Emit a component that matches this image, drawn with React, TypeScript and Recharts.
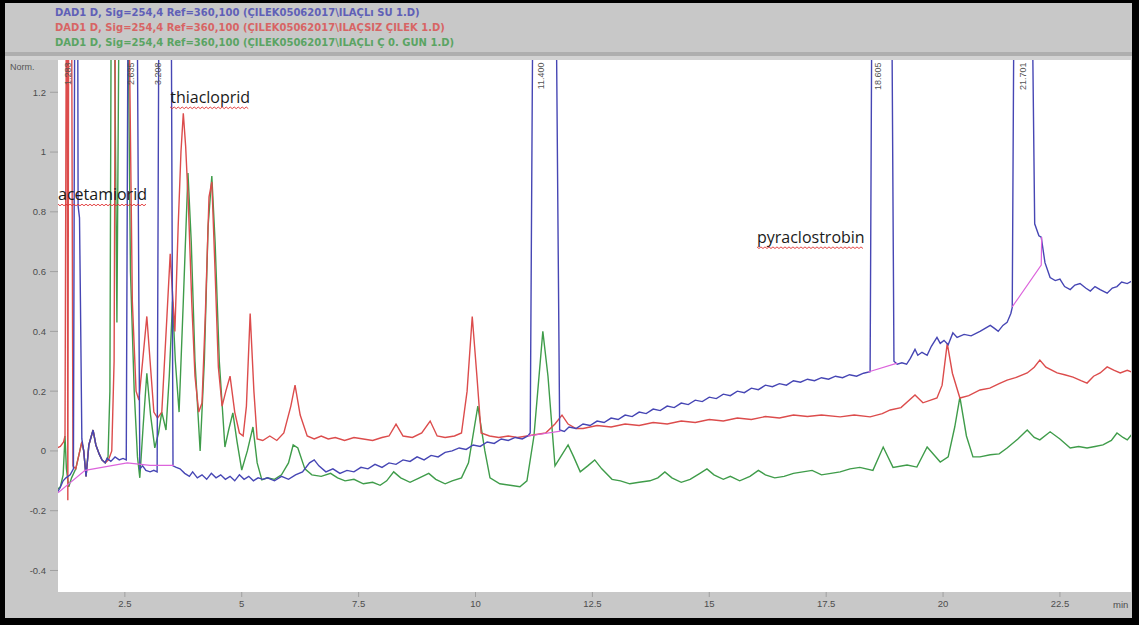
import React from 'react';
import { LineChart, Line, XAxis, YAxis, CartesianGrid, ReferenceDot } from 'recharts';

// ---------- data (retention time in min, absorbance in Norm.) ----------
const blueTrace: [number, number][] = [
  [1.05,-0.14],[1.11,-0.125],[1.18,-0.1],[1.24,-0.09],[1.33,-0.08],[1.4,-0.06],[1.43,1.6],[1.49,1.6],[1.5,0.82],[1.53,0.78],
  [1.55,0.5],[1.58,0.04],[1.62,0.0],[1.67,-0.085],[1.73,0.02],[1.82,0.07],[1.88,0.02],[1.95,-0.01],[2.01,-0.03],[2.08,-0.04],
  [2.12,-0.025],[2.2,-0.035],[2.29,-0.02],[2.38,-0.03],[2.46,-0.025],[2.53,-0.03],[2.57,1.6],[2.76,1.6],[2.82,-0.06],[2.88,-0.05],
  [2.95,-0.065],[3.04,-0.07],[3.12,-0.065],[3.19,-0.07],[3.23,1.6],[3.49,1.6],[3.53,-0.05],[3.6,-0.055],[3.68,-0.06],[3.78,-0.075],
  [3.88,-0.085],[3.95,-0.07],[4.05,-0.09],[4.15,-0.08],[4.25,-0.095],[4.35,-0.075],[4.45,-0.09],[4.55,-0.08],[4.65,-0.095],[4.75,-0.085],
  [4.85,-0.1],[4.95,-0.08],[5.05,-0.095],[5.15,-0.085],[5.25,-0.1],[5.35,-0.09],[5.45,-0.095],[5.55,-0.09],[5.7,-0.1],[5.85,-0.085],
  [6.0,-0.095],[6.15,-0.08],[6.3,-0.07],[6.45,-0.04],[6.55,-0.03],[6.65,-0.05],[6.8,-0.07],[6.95,-0.06],[7.1,-0.075],[7.25,-0.065],
  [7.4,-0.07],[7.55,-0.055],[7.7,-0.06],[7.85,-0.045],[8.0,-0.055],[8.15,-0.04],[8.3,-0.045],[8.45,-0.03],[8.6,-0.035],[8.75,-0.02],
  [8.9,-0.03],[9.05,-0.015],[9.2,-0.02],[9.35,-0.005],[9.5,0.0],[9.65,0.01],[9.8,0.005],[9.95,0.02],[10.1,0.015],[10.25,0.03],
  [10.4,0.025],[10.55,0.04],[10.7,0.035],[10.85,0.045],[11.0,0.04],[11.12,0.05],[11.17,0.06],[11.23,1.6],[11.72,1.6],[11.8,0.07],
  [11.9,0.065],[12.0,0.08],[12.15,0.075],[12.3,0.09],[12.45,0.085],[12.6,0.1],[12.75,0.095],[12.9,0.11],[13.05,0.105],[13.2,0.12],
  [13.35,0.115],[13.5,0.13],[13.65,0.125],[13.8,0.14],[13.95,0.135],[14.1,0.15],[14.25,0.145],[14.4,0.16],[14.55,0.155],[14.7,0.17],
  [14.85,0.165],[15.0,0.18],[15.15,0.175],[15.3,0.19],[15.45,0.185],[15.6,0.2],[15.75,0.195],[15.9,0.21],[16.05,0.205],[16.2,0.22],
  [16.35,0.215],[16.5,0.225],[16.65,0.22],[16.8,0.235],[16.95,0.23],[17.1,0.24],[17.25,0.235],[17.4,0.245],[17.55,0.24],[17.7,0.25],
  [17.85,0.245],[18.0,0.255],[18.15,0.25],[18.3,0.26],[18.44,0.265],[18.48,1.6],[18.9,1.6],[18.95,0.3],[19.02,0.29],[19.12,0.295],
  [19.22,0.29],[19.3,0.31],[19.4,0.34],[19.46,0.32],[19.55,0.33],[19.66,0.32],[19.75,0.35],[19.87,0.38],[19.94,0.36],[20.02,0.37],
  [20.11,0.355],[20.21,0.395],[20.3,0.38],[20.45,0.39],[20.6,0.385],[20.79,0.4],[20.9,0.41],[21.01,0.42],[21.1,0.41],[21.18,0.4],
  [21.28,0.42],[21.37,0.43],[21.45,0.46],[21.48,0.48],[21.52,1.6],[21.9,1.6],[21.96,0.76],[22.05,0.72],[22.1,0.715],[22.18,0.63],
  [22.29,0.58],[22.4,0.57],[22.5,0.575],[22.6,0.55],[22.72,0.54],[22.82,0.555],[22.93,0.56],[23.05,0.545],[23.15,0.535],[23.25,0.55],
  [23.36,0.54],[23.51,0.528],[23.62,0.545],[23.72,0.55],[23.82,0.565],[23.94,0.56],[24.06,0.57],
];

const redTrace: [number, number][] = [
  [1.05,0.01],[1.12,0.015],[1.19,0.03],[1.22,0.05],[1.25,1.6],[1.265,1.6],[1.28,-0.165],[1.3,1.6],[1.36,1.6],[1.39,-0.05],
  [1.45,-0.06],[1.58,0.03],[1.62,0.0],[1.67,-0.085],[1.73,0.02],[1.82,0.07],[1.88,0.02],[1.95,-0.01],[2.01,-0.03],[2.08,-0.04],
  [2.15,-0.03],[2.22,0.0],[2.27,0.3],[2.3,1.6],[2.58,1.6],[2.66,0.5],[2.74,0.2],[2.8,0.17],[2.88,0.3],[2.97,0.45],
  [3.04,0.3],[3.12,0.13],[3.2,0.11],[3.29,0.13],[3.4,0.45],[3.47,0.66],[3.51,0.55],[3.57,0.4],[3.64,0.75],[3.7,1.0],
  [3.75,1.13],[3.8,1.02],[3.86,0.82],[3.93,0.5],[4.0,0.25],[4.08,0.13],[4.15,0.16],[4.22,0.45],[4.3,0.85],[4.36,0.9],
  [4.43,0.6],[4.5,0.28],[4.58,0.15],[4.66,0.2],[4.75,0.25],[4.85,0.13],[4.95,0.06],[5.03,0.05],[5.1,0.15],[5.18,0.46],
  [5.26,0.2],[5.33,0.04],[5.45,0.035],[5.6,0.05],[5.75,0.035],[5.9,0.06],[6.05,0.15],[6.14,0.22],[6.25,0.12],[6.4,0.05],
  [6.55,0.04],[6.7,0.05],[6.85,0.04],[7.0,0.045],[7.2,0.035],[7.4,0.045],[7.6,0.04],[7.8,0.035],[8.0,0.045],[8.15,0.05],
  [8.3,0.09],[8.45,0.05],[8.65,0.045],[8.85,0.06],[9.03,0.1],[9.18,0.05],[9.35,0.045],[9.55,0.05],[9.7,0.06],[9.82,0.2],
  [9.93,0.45],[10.03,0.25],[10.12,0.06],[10.3,0.05],[10.5,0.045],[10.7,0.05],[10.9,0.045],[11.1,0.05],[11.3,0.055],[11.5,0.06],
  [11.7,0.09],[11.85,0.12],[11.98,0.09],[12.15,0.075],[12.3,0.075],[12.6,0.085],[12.9,0.08],[13.2,0.09],[13.5,0.085],[13.8,0.095],
  [14.1,0.09],[14.4,0.1],[14.7,0.095],[15.0,0.105],[15.3,0.1],[15.6,0.11],[15.9,0.105],[16.2,0.115],[16.5,0.11],[16.8,0.12],
  [17.1,0.115],[17.4,0.12],[17.8,0.114],[18.1,0.12],[18.44,0.114],[18.7,0.125],[18.87,0.137],[19.1,0.145],[19.4,0.187],[19.57,0.161],
  [19.87,0.177],[19.98,0.22],[20.09,0.36],[20.2,0.26],[20.36,0.177],[20.55,0.185],[20.79,0.204],[21.0,0.21],[21.2,0.225],[21.37,0.237],
  [21.55,0.245],[21.8,0.261],[21.95,0.28],[22.07,0.304],[22.2,0.28],[22.44,0.261],[22.6,0.255],[22.78,0.247],[22.95,0.235],[23.08,0.227],
  [23.22,0.25],[23.36,0.261],[23.51,0.281],[23.65,0.27],[23.79,0.261],[23.94,0.27],[24.06,0.262],
];

const greenTrace: [number, number][] = [
  [1.05,-0.13],[1.12,-0.12],[1.18,-0.08],[1.22,0.05],[1.25,-0.06],[1.3,-0.12],[1.36,-0.09],[1.45,-0.06],[1.58,0.03],[1.62,0.0],
  [1.67,-0.085],[1.73,0.02],[1.82,0.07],[1.88,0.02],[1.95,-0.01],[2.01,-0.03],[2.08,-0.04],[2.14,-0.02],[2.18,0.2],[2.21,1.6],
  [2.27,1.6],[2.33,0.43],[2.38,1.6],[2.56,1.6],[2.62,0.6],[2.7,0.2],[2.77,-0.02],[2.82,-0.09],[2.89,0.08],[2.97,0.26],
  [3.05,0.12],[3.14,0.01],[3.22,0.06],[3.29,0.13],[3.38,0.07],[3.45,0.25],[3.52,0.5],[3.58,0.3],[3.66,0.13],[3.75,0.5],
  [3.85,0.93],[3.92,0.7],[4.0,0.3],[4.11,0.0],[4.2,0.3],[4.28,0.75],[4.36,0.92],[4.43,0.7],[4.52,0.3],[4.64,0.013],
  [4.72,0.07],[4.81,0.127],[4.9,0.03],[5.0,-0.064],[5.12,0.0],[5.24,0.08],[5.33,-0.04],[5.43,-0.097],[5.55,-0.09],[5.7,-0.095],
  [5.85,-0.08],[6.0,-0.04],[6.1,0.02],[6.2,0.01],[6.35,-0.06],[6.5,-0.08],[6.7,-0.085],[6.9,-0.075],[7.05,-0.09],[7.21,-0.1],
  [7.4,-0.095],[7.6,-0.11],[7.8,-0.105],[7.96,-0.115],[8.1,-0.1],[8.25,-0.07],[8.4,-0.09],[8.6,-0.105],[8.8,-0.09],[9.0,-0.075],
  [9.15,-0.095],[9.35,-0.11],[9.5,-0.1],[9.7,-0.09],[9.85,-0.04],[10.05,0.15],[10.2,0.0],[10.31,-0.09],[10.52,-0.11],[10.74,-0.115],
  [10.95,-0.12],[11.1,-0.1],[11.25,0.05],[11.44,0.4],[11.55,0.25],[11.7,-0.05],[11.82,-0.02],[11.98,0.02],[12.1,-0.02],[12.24,-0.07],
  [12.4,-0.05],[12.55,-0.03],[12.7,-0.06],[12.92,-0.095],[13.1,-0.1],[13.3,-0.11],[13.5,-0.105],[13.73,-0.1],[13.9,-0.09],[14.05,-0.07],
  [14.2,-0.09],[14.4,-0.105],[14.59,-0.095],[14.8,-0.075],[14.95,-0.06],[15.1,-0.08],[15.3,-0.095],[15.45,-0.085],[15.65,-0.1],[15.87,-0.085],
  [16.05,-0.065],[16.2,-0.08],[16.4,-0.09],[16.6,-0.085],[16.8,-0.075],[17.0,-0.07],[17.2,-0.065],[17.4,-0.08],[17.6,-0.075],[17.8,-0.07],
  [18.01,-0.06],[18.22,-0.055],[18.5,-0.065],[18.72,0.013],[18.93,-0.055],[19.23,-0.047],[19.44,-0.054],[19.66,0.013],[19.94,-0.037],[20.11,-0.02],
  [20.25,0.08],[20.36,0.18],[20.5,0.05],[20.64,-0.02],[20.79,-0.02],[21.01,-0.013],[21.2,-0.01],[21.37,0.01],[21.6,0.04],[21.8,0.07],
  [21.95,0.045],[22.07,0.037],[22.29,0.064],[22.5,0.04],[22.72,0.01],[22.9,0.015],[23.08,0.01],[23.25,0.015],[23.42,0.02],[23.6,0.035],
  [23.72,0.06],[23.85,0.045],[23.94,0.037],[24.06,0.06],
];

// integration baselines (null separates segments)
const baselineTrace: [number, number | null][] = [
  [1.07,-0.14],[1.65,-0.065],[2.55,-0.04],[3.04,-0.048],[3.55,-0.048],[3.6,null],
  [11.12,0.05],[11.82,0.066],[11.9,null],
  [18.4,0.264],[19.02,0.294],[19.1,null],
  [21.48,0.482],[22.1,0.622],[22.11,0.716],
];

const legendLabels = [
  'DAD1 D, Sig=254,4 Ref=360,100 (ÇILEK05062017\\ILAÇLı SU 1.D)',
  'DAD1 D, Sig=254,4 Ref=360,100 (ÇILEK05062017\\ILAÇSIZ ÇILEK 1.D)',
  'DAD1 D, Sig=254,4 Ref=360,100 (ÇILEK05062017\\ILAÇLı Ç 0. GUN 1.D)',
];
const seriesColors = ['#4646b4', '#dc4c4c', '#3f9c4a'];
const baselineColor = '#dc64dc';

const xTicks = [2.5, 5, 7.5, 10, 12.5, 15, 17.5, 20, 22.5];
const yTicks = [-0.4, -0.2, 0, 0.2, 0.4, 0.6, 0.8, 1, 1.2];
const xMinorTicks = Array.from({ length: 46 }, (_, i) => 1.5 + i * 0.5);
const yMinorTicks = Array.from({ length: 35 }, (_, i) => Math.round((-0.45 + i * 0.05) * 100) / 100);

const peakTimes = [1.283, 2.635, 3.208, 11.4, 18.605, 21.701];
const peakLabels = ['1.283', '2.635', '3.208', '11.400', '18.605', '21.701'];

const compoundNames = ['acetamiorid', 'thiacloprid', 'pyraclostrobin'];
const compoundT = [1.07, 3.47, 16.02];
const compoundV = [0.839, 1.164, 0.696];

const X_DOMAIN: [number, number] = [1.07, 24.02];
const Y_DOMAIN: [number, number] = [-0.472, 1.308];

const toRows = (tr: [number, number | null][]) => tr.map(([t, v]) => ({ t, v }));

const FONT = 'Liberation Sans, Arial, sans-serif';
const LEGEND_FONT = '"DejaVu Sans", Verdana, sans-serif';
const ANNOT_FONT = '"Open Sans", Lato, sans-serif';
const ANNOT_SIZE = 16;

let measureCtx: CanvasRenderingContext2D | null = null;
function measure(text: string, font: string) {
  if (!measureCtx) measureCtx = document.createElement('canvas').getContext('2d');
  if (!measureCtx) return text.length * 8.5;
  measureCtx.font = font;
  return measureCtx.measureText(text).width;
}

const makeCompoundLabel = (name: string) => (props: any) => {
  const vb = props.viewBox || {};
  const x = (vb.x ?? 0) + (vb.width ?? 0) / 2;
  const y = (vb.y ?? 0) + (vb.height ?? 0) / 2;
  const w = measure(name, `${ANNOT_SIZE}px "Open Sans"`);
  let d = `M${x},${y + 4}`;
  for (let i = 2, k = 0; i <= w; i += 2, k++) d += ` L${x + i},${y + 4 + (k % 2 === 0 ? 1.6 : 0)}`;
  return (
    <g>
      <text x={x} y={y} fontFamily={ANNOT_FONT} fontSize={ANNOT_SIZE} fill="#1a1a1a">{name}</text>
      <path d={d} stroke="#e03030" strokeWidth={0.9} fill="none" />
    </g>
  );
};

const makePeakLabel = (label: string) => (props: any) => {
  const vb = props.viewBox || {};
  const x = (vb.x ?? 0) + (vb.width ?? 0) / 2 + 3;
  const y = (vb.y ?? 0) + (vb.height ?? 0) / 2;
  return (
    <text x={x} y={y} transform={`rotate(-90 ${x} ${y})`} textAnchor="end" fontFamily={FONT} fontSize={9} fill="#555">
      {label}
    </text>
  );
};

export default function App() {
  return (
    <div style={{ position: 'absolute', left: 0, top: 0, width: 1139, height: 625, background: '#000', overflow: 'hidden' }}>
      <div style={{ position: 'absolute', left: 5, top: 3, width: 1127, height: 615, background: '#c8c8c8', overflow: 'hidden' }}>
        <div style={{ position: 'absolute', left: 0, top: 49, width: 1127, height: 4, background: '#aeaeae' }} />
        <div style={{ position: 'absolute', left: 0, top: 53, width: 1127, height: 4, background: '#d2d2d2' }} />
        {legendLabels.map((txt, i) => (
          <div key={i} style={{ position: 'absolute', left: 50, top: 4 + i * 15, fontFamily: LEGEND_FONT, fontSize: 10, fontWeight: 'bold', color: seriesColors[i], whiteSpace: 'nowrap', lineHeight: '12px', opacity: 0.8 }}>
            {txt}
          </div>
        ))}
        <div style={{ position: 'absolute', left: 5, top: 59, fontFamily: FONT, fontSize: 9, color: '#555', lineHeight: '11px' }}>Norm.</div>
        <div style={{ position: 'absolute', left: 1108, top: 596, fontFamily: FONT, fontSize: 9.5, color: '#4d4d4d', lineHeight: '11px' }}>min</div>
        <div style={{ position: 'absolute', left: 0, top: 0 }}>
          <LineChart width={1127} height={615} margin={{ top: 57, right: 1, bottom: 2, left: 0 }}>
            <CartesianGrid fill="#ffffff" stroke="none" />
            <XAxis xAxisId="minor" type="number" dataKey="t" domain={X_DOMAIN} allowDataOverflow ticks={xMinorTicks}
              tick={false} tickLine={{ stroke: '#a8a8a8' }} tickSize={3} axisLine={false} height={0} />
            <XAxis type="number" dataKey="t" domain={X_DOMAIN} allowDataOverflow ticks={xTicks} interval={0}
              tick={{ fill: '#4d4d4d', fontSize: 9.5, fontFamily: FONT }} tickLine={{ stroke: '#a0a0a0' }}
              tickSize={5} tickMargin={3} axisLine={false} height={24} />
            <YAxis yAxisId="minor" type="number" domain={Y_DOMAIN} allowDataOverflow ticks={yMinorTicks}
              tick={false} tickLine={{ stroke: '#a8a8a8' }} tickSize={4} axisLine={false} width={0} />
            <YAxis type="number" domain={Y_DOMAIN} allowDataOverflow ticks={yTicks} interval={0}
              tick={{ fill: '#4d4d4d', fontSize: 9.5, fontFamily: FONT }} tickLine={{ stroke: '#a0a0a0' }}
              tickSize={8} tickMargin={4} axisLine={false} width={53} />
            <Line data={toRows(greenTrace)} dataKey="v" type="linear" stroke={seriesColors[2]} strokeWidth={1.4} dot={false} isAnimationActive={false} />
            <Line data={toRows(redTrace)} dataKey="v" type="linear" stroke={seriesColors[1]} strokeWidth={1.4} dot={false} isAnimationActive={false} />
            <Line data={toRows(blueTrace)} dataKey="v" type="linear" stroke={seriesColors[0]} strokeWidth={1.4} dot={false} isAnimationActive={false} />
            <Line data={toRows(baselineTrace)} dataKey="v" type="linear" stroke={baselineColor} strokeWidth={1.2} dot={false} connectNulls={false} isAnimationActive={false} />
            {peakTimes.map((t, i) => (
              <ReferenceDot key={'p' + i} x={t} y={1.3} r={1} fill="none" stroke="none" ifOverflow="visible" label={makePeakLabel(peakLabels[i])} />
            ))}
            {compoundNames.map((n, i) => (
              <ReferenceDot key={'c' + i} x={compoundT[i]} y={compoundV[i]} r={1} fill="none" stroke="none" ifOverflow="visible" label={makeCompoundLabel(n)} />
            ))}
          </LineChart>
        </div>
      </div>
    </div>
  );
}
